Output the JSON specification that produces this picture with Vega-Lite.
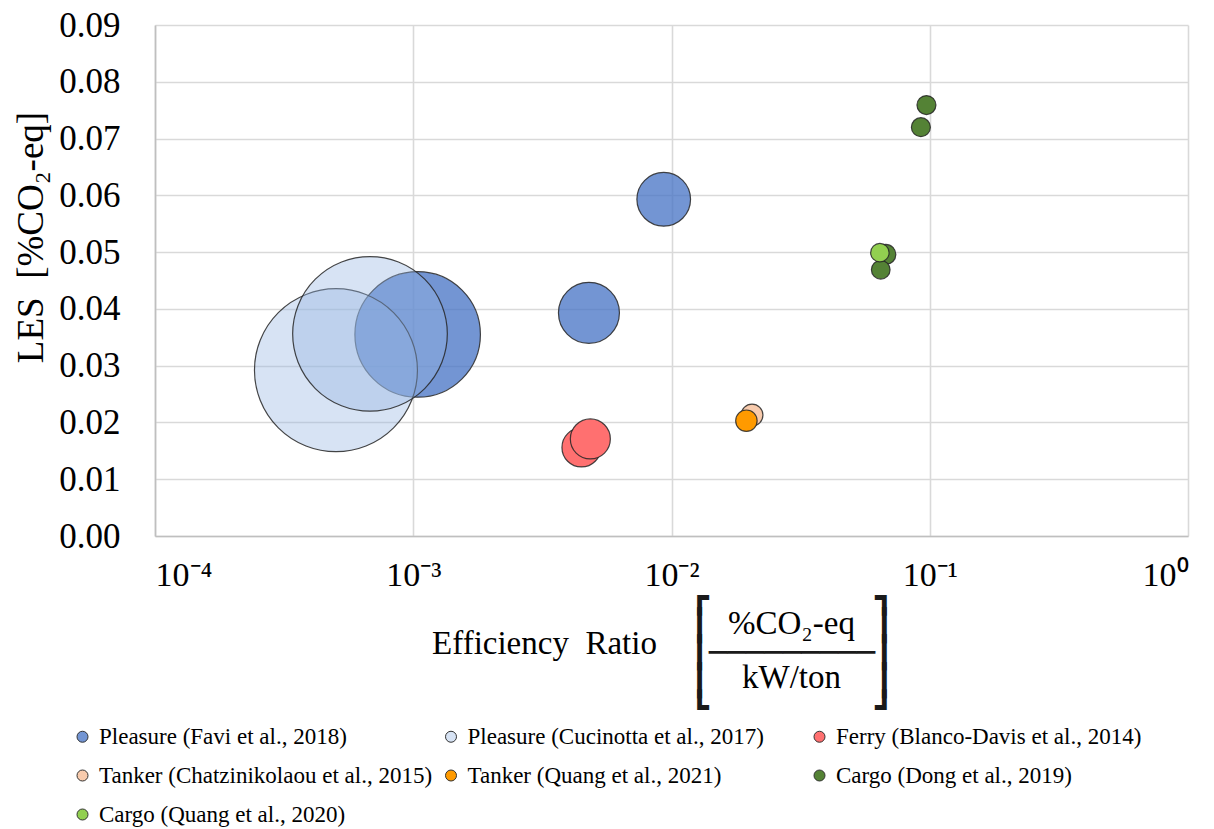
{
  "$schema": "https://vega.github.io/schema/vega-lite/v6.json",
  "width": 1033,
  "height": 511,
  "autosize": {"type": "none"},
  "padding": {"left": 155, "top": 25, "right": 26, "bottom": 293},
  "background": "white",
  "data": {
    "values": [
      {"series": "Pleasure (Favi et al., 2018)", "er": 0.00104, "les": 0.0355, "bubble": 39.4},
      {"series": "Pleasure (Favi et al., 2018)", "er": 0.00479, "les": 0.0393, "bubble": 9.3},
      {"series": "Pleasure (Favi et al., 2018)", "er": 0.00933, "les": 0.0593, "bubble": 7.2},
      {"series": "Pleasure (Cucinotta et al., 2017)", "er": 0.000502, "les": 0.0292, "bubble": 66.4},
      {"series": "Pleasure (Cucinotta et al., 2017)", "er": 0.00068, "les": 0.0356, "bubble": 59.8},
      {"series": "Ferry (Blanco-Davis et al., 2014)", "er": 0.00448, "les": 0.0156, "bubble": 3.8},
      {"series": "Ferry (Blanco-Davis et al., 2014)", "er": 0.00485, "les": 0.0171, "bubble": 4.0},
      {"series": "Tanker (Chatzinikolaou et al., 2015)", "er": 0.0205, "les": 0.0213, "bubble": 1.2},
      {"series": "Tanker (Quang et al., 2021)", "er": 0.0195, "les": 0.0203, "bubble": 1.15},
      {"series": "Cargo (Dong et al., 2019)", "er": 0.0971, "les": 0.0759, "bubble": 0.9},
      {"series": "Cargo (Dong et al., 2019)", "er": 0.0924, "les": 0.072, "bubble": 0.9},
      {"series": "Cargo (Dong et al., 2019)", "er": 0.0676, "les": 0.0496, "bubble": 1.0},
      {"series": "Cargo (Dong et al., 2019)", "er": 0.0646, "les": 0.0469, "bubble": 0.87},
      {"series": "Cargo (Quang et al., 2020)", "er": 0.0641, "les": 0.0499, "bubble": 0.85}
    ]
  },
  "config": {
    "view": {"stroke": null},
    "axis": {"titleFontWeight": "normal", "titleColor": "#000000", "labelColor": "#000000"},
    "legend": {
      "orient": "none",
      "direction": "horizontal",
      "legendX": -84,
      "legendY": 700,
      "columns": 3,
      "gridAlign": "all",
      "columnPadding": 6.5,
      "rowPadding": 15,
      "labelFont": "Liberation Serif",
      "labelFontSize": 23,
      "labelColor": "#000000",
      "labelLimit": 400,
      "labelOffset": 5,
      "symbolSize": 121,
      "symbolType": "circle",
      "symbolStrokeColor": "#333333",
      "symbolStrokeWidth": 1,
      "title": null
    }
  },
  "resolve": {"axis": {"x": "independent", "y": "independent"}},
  "layer": [
    {
      "mark": {"type": "point", "filled": true, "opacity": 1, "stroke": "#262626", "strokeWidth": 1.2, "strokeOpacity": 0.85},
      "encoding": {
        "x": {
          "field": "er", "type": "quantitative",
          "scale": {"type": "log", "domain": [0.0001, 1]},
          "axis": {
            "orient": "bottom",
            "values": [0.0001, 0.001, 0.01, 0.1, 1],
            "labelExpr": "['10⁻⁴','10⁻³','10⁻²','10⁻¹','10⁰'][round(log(datum.value)/LN10)+4]",
            "labelFont": "Liberation Serif",
            "labelFontSize": 34,
            "labelBaseline": "alphabetic",
            "labelPadding": 49,
            "labelDx": 6,
            "ticks": false,
            "tickSize": 0,
            "grid": true,
            "gridColor": "#D9D9D9",
            "gridWidth": 1.6,
            "domainColor": "#BFBFBF",
            "domainWidth": 1.6,
            "title": "Efficiency\u2002Ratio",
            "titleFont": "Liberation Serif",
            "titleFontSize": 33,
            "titleX": 389,
            "titleY": 117,
            "titleAlign": "center",
            "titleBaseline": "alphabetic"
          }
        },
        "y": {
          "field": "les", "type": "quantitative",
          "scale": {"domain": [0, 0.09], "nice": false},
          "axis": {
            "orient": "left",
            "values": [0, 0.01, 0.02, 0.03, 0.04, 0.05, 0.06, 0.07, 0.08, 0.09],
            "format": ".2f",
            "labelFont": "Liberation Serif",
            "labelFontSize": 35,
            "labelPadding": 35,
            "ticks": false,
            "tickSize": 0,
            "grid": true,
            "gridColor": "#D9D9D9",
            "gridWidth": 1.6,
            "domainColor": "#BFBFBF",
            "domainWidth": 1.6,
            "title": "LES\u00a0\u00a0[%CO₂-eq]",
            "titleFont": "Liberation Serif",
            "titleFontSize": 37,
            "titleAngle": 270,
            "titleX": -113,
            "titleY": 212,
            "titleAlign": "center",
            "titleBaseline": "alphabetic"
          }
        },
        "color": {
          "field": "series", "type": "nominal",
          "scale": {
            "domain": ["Pleasure (Favi et al., 2018)", "Pleasure (Cucinotta et al., 2017)", "Ferry (Blanco-Davis et al., 2014)", "Tanker (Chatzinikolaou et al., 2015)", "Tanker (Quang et al., 2021)", "Cargo (Dong et al., 2019)", "Cargo (Quang et al., 2020)"],
            "range": ["rgba(68,114,196,0.75)", "rgba(149,181,226,0.38)", "#FF7070", "#F8CBAD", "#FF9A00", "#548235", "#92D050"]
          },
          "legend": {"title": null}
        },
        "size": {
          "field": "bubble", "type": "quantitative",
          "scale": {"type": "linear", "domain": [0, 100], "range": [0, 40000], "zero": true},
          "legend": null
        }
      }
    },
    {
      "mark": {"type": "point", "opacity": 0},
      "encoding": {
        "y": {
          "field": "les", "type": "quantitative",
          "scale": {"domain": [0, 0.09], "nice": false},
          "axis": {
            "orient": "right",
            "labels": false, "ticks": false, "domain": false, "grid": false,
            "title": "%CO₂-eq",
            "titleFont": "Times New Roman",
            "titleFontSize": 33,
            "titleAngle": 0,
            "titleX": -397,
            "titleY": 608,
            "titleAlign": "center",
            "titleBaseline": "alphabetic"
          }
        }
      }
    },
    {
      "mark": {"type": "point", "opacity": 0},
      "encoding": {
        "y": {
          "field": "les", "type": "quantitative",
          "scale": {"domain": [0, 0.09], "nice": false},
          "axis": {
            "orient": "left",
            "labels": false, "ticks": false, "domain": false, "grid": false,
            "title": "kW/ton",
            "titleFont": "Liberation Serif",
            "titleFontSize": 33,
            "titleAngle": 0,
            "titleX": 636,
            "titleY": 662,
            "titleAlign": "center",
            "titleBaseline": "alphabetic"
          }
        }
      }
    },
    {
      "mark": {"type": "point", "opacity": 0},
      "encoding": {
        "y": {
          "field": "les", "type": "quantitative",
          "scale": {"domain": [0, 0.09], "nice": false},
          "axis": {
            "orient": "right",
            "labels": false, "ticks": false, "domain": false, "grid": false,
            "title": ["┏\u00a0\u00a0\u00a0\u00a0\u00a0\u00a0\u00a0\u00a0\u00a0┓", "┃\u00a0\u00a0\u00a0\u00a0\u00a0\u00a0\u00a0\u00a0\u00a0┃", "┃─────────┃", "┃\u00a0\u00a0\u00a0\u00a0\u00a0\u00a0\u00a0\u00a0\u00a0┃", "┗\u00a0\u00a0\u00a0\u00a0\u00a0\u00a0\u00a0\u00a0\u00a0┛"],
            "titleFont": "DejaVu Sans Mono",
            "titleFontSize": 30.7,
            "titleLineHeight": 27.5,
            "titleLimit": 2000,
            "titleColor": "#1a1a1a",
            "titleAngle": 0,
            "titleX": -498.25,
            "titleY": 582.6,
            "titleAlign": "left",
            "titleBaseline": "alphabetic"
          }
        }
      }
    }
  ]
}
